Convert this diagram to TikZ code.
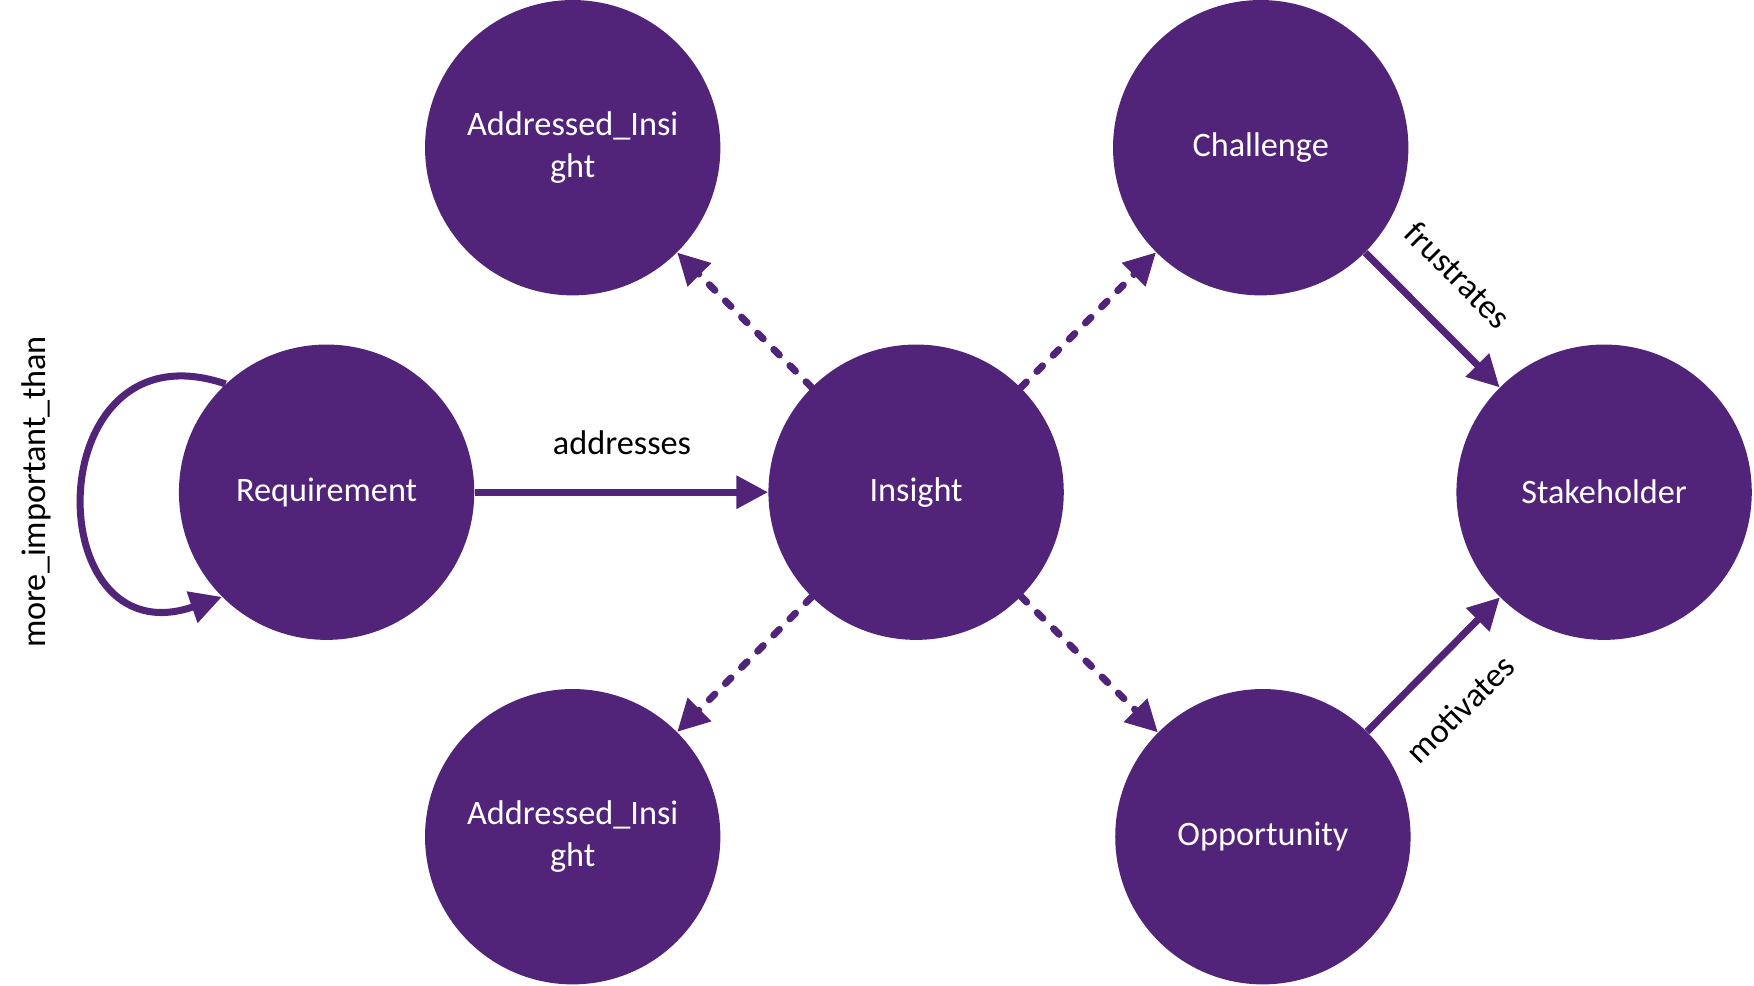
\documentclass[tikz,border=0pt]{standalone}
\usepackage{fontspec}
\setmainfont{Carlito}
\usepackage{tikz}
\usetikzlibrary{arrows.meta}
\definecolor{UQPurple}{RGB}{81,36,122}

\begin{document}
\begin{tikzpicture}[x=0.02cm, y=-0.02cm,
  concept/.style={circle, fill=UQPurple, minimum size=5.908cm, inner sep=0pt, text=white, align=center, font=\fontsize{19.5}{23.6}\selectfont},
  relation/.style={UQPurple, line width=4pt, -{Triangle[length=18pt,width=18pt]}},
  derived/.style={relation, line cap=round, dash pattern=on 4.5pt off 8.5pt},
  tag/.style={font=\fontsize{19.5}{23.6}\selectfont}]
\useasboundingbox (0,0) rectangle (1754,985);

\node[concept] (R) at (326.6, 492.2) {Requirement};
\node[concept] (I) at (916.1, 492.2) {Insight};
\node[concept] (T) at (572.7, 147.7) {Addressed\_Insi\\ght};
\node[concept] (B) at (572.7, 836.7) {Addressed\_Insi\\ght};
\node[concept] (C) at (1260.7, 147.7) {Challenge};
\node[concept] (O) at (1262.9, 836.7) {Opportunity};
\node[concept] (S) at (1604.1, 492.2) {Stakeholder};

\node[tag] (Ma) at (36, 492) [rotate=90] {more\_important\_than};
\node[tag] (Ad) at (622, 443) {addresses};
\node[tag] (Fr) at (1458, 275) [rotate=-45] {frustrates};
\node[tag] (Mo) at (1460, 709) [rotate=45] {motivates};

\draw[relation] (R.133) .. controls +(-188,-64) and +(-185,64) .. (R.225);
\draw[relation] (R) -- (I);
\draw[relation] (C) -- (S);
\draw[relation] (O) -- (S);

\draw[derived] (I) -- (T);
\draw[derived] (I) -- (B);
\draw[derived] (I) -- (C);
\draw[derived] (I) -- (O);

\end{tikzpicture}
\end{document}
